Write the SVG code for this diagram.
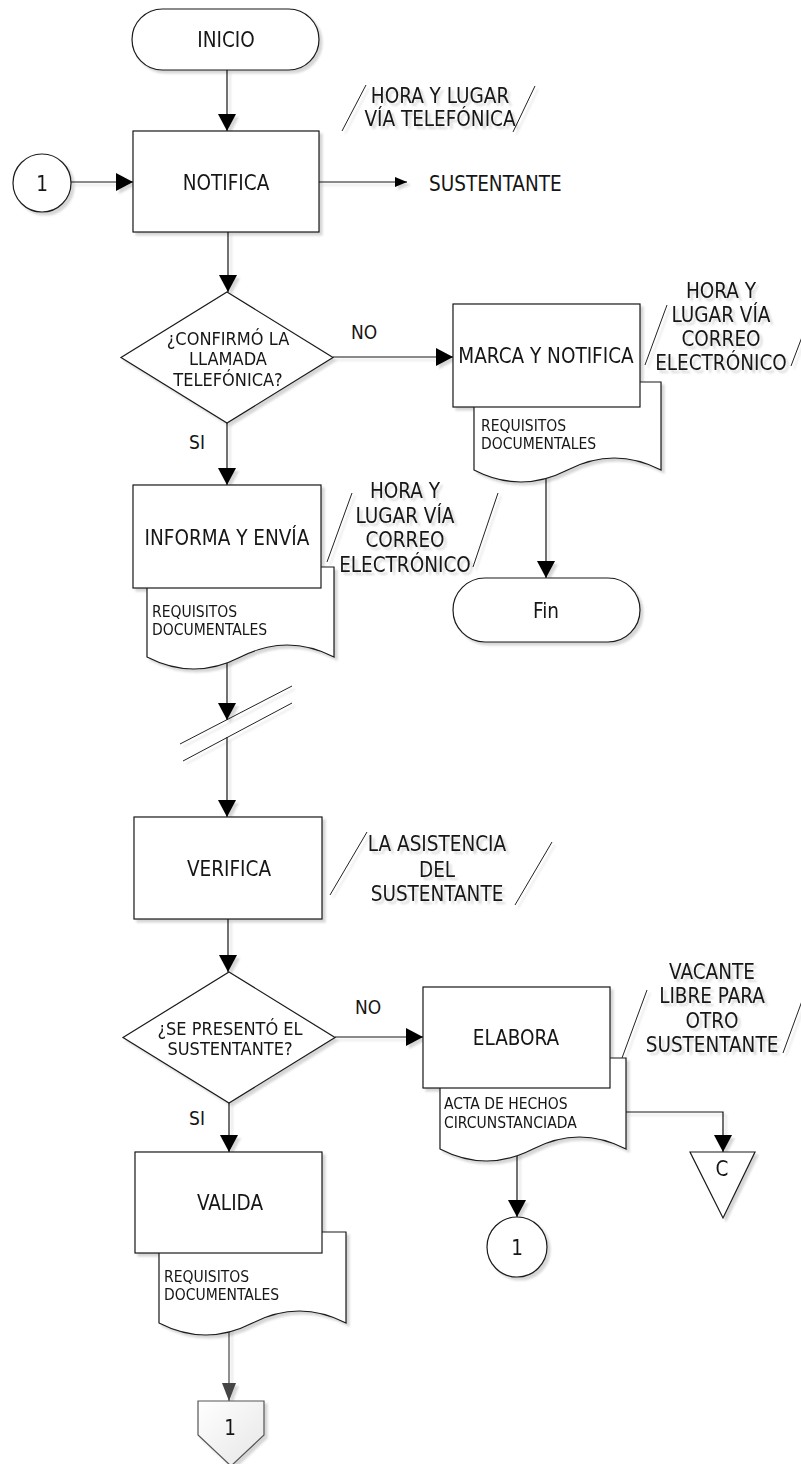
<svg xmlns="http://www.w3.org/2000/svg" width="801" height="1464" viewBox="0 0 801 1464">
<defs>
<style>
.sh{fill:#fff;stroke:#1a1a1a;stroke-width:1.2}
.t{font-family:"DejaVu Sans Condensed","DejaVu Sans",sans-serif;font-stretch:condensed;font-size:20.5px;fill:#151515;text-anchor:middle}
.d{font-size:18px}
.lb{font-size:19px}
.s{font-size:15.5px;text-anchor:start}
.ln{fill:none;stroke:#111;stroke-width:1.2}
.sl{fill:none;stroke:#222;stroke-width:1}
</style>
<marker id="ah" viewBox="0 0 17 18" refX="17" refY="9" markerWidth="17" markerHeight="18" markerUnits="userSpaceOnUse" orient="auto"><path d="M0,0 L17,9 L0,18 Z" fill="#000"/></marker>
<marker id="ahs" viewBox="0 0 12 10" refX="12" refY="5" markerWidth="12" markerHeight="10" markerUnits="userSpaceOnUse" orient="auto"><path d="M0,0 L12,5 L0,10 Z" fill="#000"/></marker>
<marker id="ahg" viewBox="0 0 18 14" refX="18" refY="7" markerWidth="18" markerHeight="14" markerUnits="userSpaceOnUse" orient="auto"><path d="M0,0 L18,7 L0,14 Z" fill="#444"/></marker>
<filter id="f" x="-10%" y="-10%" width="130%" height="130%"><feDropShadow dx="3" dy="3" stdDeviation="1" flood-color="#000" flood-opacity="0.16"/></filter>
<linearGradient id="g" x1="0" y1="0" x2="1" y2="1"><stop offset="0" stop-color="#ffffff"/><stop offset="1" stop-color="#e6e6e6"/></linearGradient>
</defs>
<rect width="801" height="1464" fill="#fff"/>

<g id="connectors" filter="url(#f)">
<path class="ln" d="M227,70 V131" marker-end="url(#ah)"/>
<path class="ln" d="M71,182 H133" marker-end="url(#ah)"/>
<path class="ln" d="M319,182 H407" marker-end="url(#ahs)"/>
<path class="ln" d="M228,232 V292" marker-end="url(#ah)"/>
<path class="ln" d="M333,357 H453" marker-end="url(#ah)"/>
<path class="ln" d="M546,470 V578" marker-end="url(#ah)"/>
<path class="ln" d="M227,423 V485" marker-end="url(#ah)"/>
<path class="ln" d="M227,650 V720" marker-end="url(#ah)"/>
<path class="ln" d="M227,737 V817" marker-end="url(#ah)"/>
<path class="sl" d="M180,744 L292,686 M183,761 L292,703"/>
<path class="ln" d="M228,919 V972" marker-end="url(#ah)"/>
<path class="ln" d="M335,1037 H423" marker-end="url(#ah)"/>
<path class="ln" d="M626,1112 H723 V1152" marker-end="url(#ah)"/>
<path class="ln" d="M517,1150 V1217" marker-end="url(#ah)"/>
<path class="ln" d="M229,1103 V1152" marker-end="url(#ah)"/>
<path class="ln" d="M229,1320 V1401" style="stroke:#444" marker-end="url(#ahg)"/>
</g>

<g id="inicio" filter="url(#f)">
<rect class="sh" x="132" y="9" width="187" height="61" rx="30.5"/>
<text class="t" x="226" y="47">INICIO</text>
</g>

<g id="notifica" filter="url(#f)">
<rect class="sh" x="133" y="131" width="186" height="101"/>
<text class="t" x="226" y="190">NOTIFICA</text>
</g>

<g id="nota-telefonica" filter="url(#f)">
<path class="sl" d="M342,131 L366,85 M513,132 L535,86"/>
<text class="t" x="440" y="102.5">HORA Y LUGAR</text>
<text class="t" x="440" y="125.5">VÍA TELEFÓNICA</text>
</g>

<g id="conector-1-entrada" filter="url(#f)">
<circle class="sh" cx="42" cy="183" r="29"/>
<text class="t" x="42" y="190.5">1</text>
</g>

<g id="sustentante">
<text class="t" x="429" y="190.5" style="text-anchor:start">SUSTENTANTE</text>
</g>

<g id="decision-llamada" filter="url(#f)">
<polygon class="sh" points="227,292 333,357.5 227,423 121,357.5"/>
<text class="t d" x="228" y="344.5">¿CONFIRMÓ LA</text>
<text class="t d" x="228" y="364.5">LLAMADA</text>
<text class="t d" x="228" y="385.5">TELEFÓNICA?</text>
</g>

<g id="etiquetas-1">
<text class="t lb" x="364" y="339">NO</text>
<text class="t lb" x="197" y="449">SI</text>
</g>

<g id="marca" filter="url(#f)">
<path class="sh" d="M474,470 V382 H661 V470 Q614.25,446 567.5,470 T474,470 Z"/>
<rect class="sh" x="453" y="304" width="187" height="103"/>
<text class="t" x="546" y="362.5">MARCA Y NOTIFICA</text>
<text class="t s" x="481" y="431">REQUISITOS</text>
<text class="t s" x="481" y="449">DOCUMENTALES</text>
</g>

<g id="nota-marca" filter="url(#f)">
<path class="sl" d="M645,365 L667,305 M791,366 L816,300"/>
<text class="t" x="721" y="297.5">HORA Y</text>
<text class="t" x="721" y="321.5">LUGAR VÍA</text>
<text class="t" x="721" y="345.5">CORREO</text>
<text class="t" x="721" y="369.5">ELECTRÓNICO</text>
</g>

<g id="fin" filter="url(#f)">
<rect class="sh" x="453" y="578" width="187" height="64" rx="32"/>
<text class="t" x="546" y="617.5">Fin</text>
</g>

<g id="informa" filter="url(#f)">
<path class="sh" d="M147,657 V567 H334 V657 Q287.25,633 240.5,657 T147,657 Z"/>
<rect class="sh" x="133" y="485" width="188" height="103"/>
<text class="t" x="227" y="544.5">INFORMA Y ENVÍA</text>
<text class="t s" x="152" y="617">REQUISITOS</text>
<text class="t s" x="152" y="635">DOCUMENTALES</text>
</g>

<g id="nota-informa" filter="url(#f)">
<path class="sl" d="M327,562 L352,493 M473,567 L498,493"/>
<text class="t" x="405" y="497.5">HORA Y</text>
<text class="t" x="405" y="522.5">LUGAR VÍA</text>
<text class="t" x="405" y="546.5">CORREO</text>
<text class="t" x="405" y="571.5">ELECTRÓNICO</text>
</g>

<g id="verifica" filter="url(#f)">
<rect class="sh" x="134" y="817" width="188" height="102"/>
<text class="t" x="229" y="875.5">VERIFICA</text>
</g>

<g id="nota-verifica" filter="url(#f)">
<path class="sl" d="M330,895 L367,832 M515,905 L552,842"/>
<text class="t" x="437" y="850.5">LA ASISTENCIA</text>
<text class="t" x="437" y="876.5">DEL</text>
<text class="t" x="437" y="900.5">SUSTENTANTE</text>
</g>

<g id="decision-presento" filter="url(#f)">
<polygon class="sh" points="229,972 335,1037.5 229,1103 123,1037.5"/>
<text class="t d" x="230" y="1034.5">¿SE PRESENTÓ EL</text>
<text class="t d" x="230" y="1054.5">SUSTENTANTE?</text>
</g>

<g id="etiquetas-2">
<text class="t lb" x="368" y="1014">NO</text>
<text class="t lb" x="197" y="1125">SI</text>
</g>

<g id="elabora" filter="url(#f)">
<path class="sh" d="M440,1149 V1058 H626 V1149 Q579.5,1125 533,1149 T440,1149 Z"/>
<rect class="sh" x="423" y="987" width="187" height="101"/>
<text class="t" x="516" y="1044.5">ELABORA</text>
<text class="t s" x="444" y="1109">ACTA DE HECHOS</text>
<text class="t s" x="444" y="1128">CIRCUNSTANCIADA</text>
</g>

<g id="nota-elabora" filter="url(#f)">
<path class="sl" d="M622,1058 L647,990 M783,1053 L806,990"/>
<text class="t" x="712" y="978.5">VACANTE</text>
<text class="t" x="712" y="1003">LIBRE PARA</text>
<text class="t" x="712" y="1027.5">OTRO</text>
<text class="t" x="712" y="1052">SUSTENTANTE</text>
</g>

<g id="conector-c" filter="url(#f)">
<polygon class="sh" points="690,1152 755,1152 723,1218"/>
<text class="t" x="722" y="1175.5">C</text>
</g>

<g id="conector-1-salida" filter="url(#f)">
<circle class="sh" cx="517" cy="1247" r="30"/>
<text class="t" x="517" y="1254.5">1</text>
</g>

<g id="valida" filter="url(#f)">
<path class="sh" d="M159,1323 V1232 H346 V1323 Q299.25,1299 252.5,1323 T159,1323 Z"/>
<rect class="sh" x="135" y="1152" width="187" height="101"/>
<text class="t" x="230" y="1209.5">VALIDA</text>
<text class="t s" x="164" y="1282">REQUISITOS</text>
<text class="t s" x="164" y="1300">DOCUMENTALES</text>
</g>

<g id="conector-pagina-1" filter="url(#f)">
<polygon points="198,1401 264,1401 264,1435 231,1466 198,1435" fill="url(#g)" stroke="#555" stroke-width="1.2"/>
<text class="t" x="230" y="1434.5">1</text>
</g>
</svg>
